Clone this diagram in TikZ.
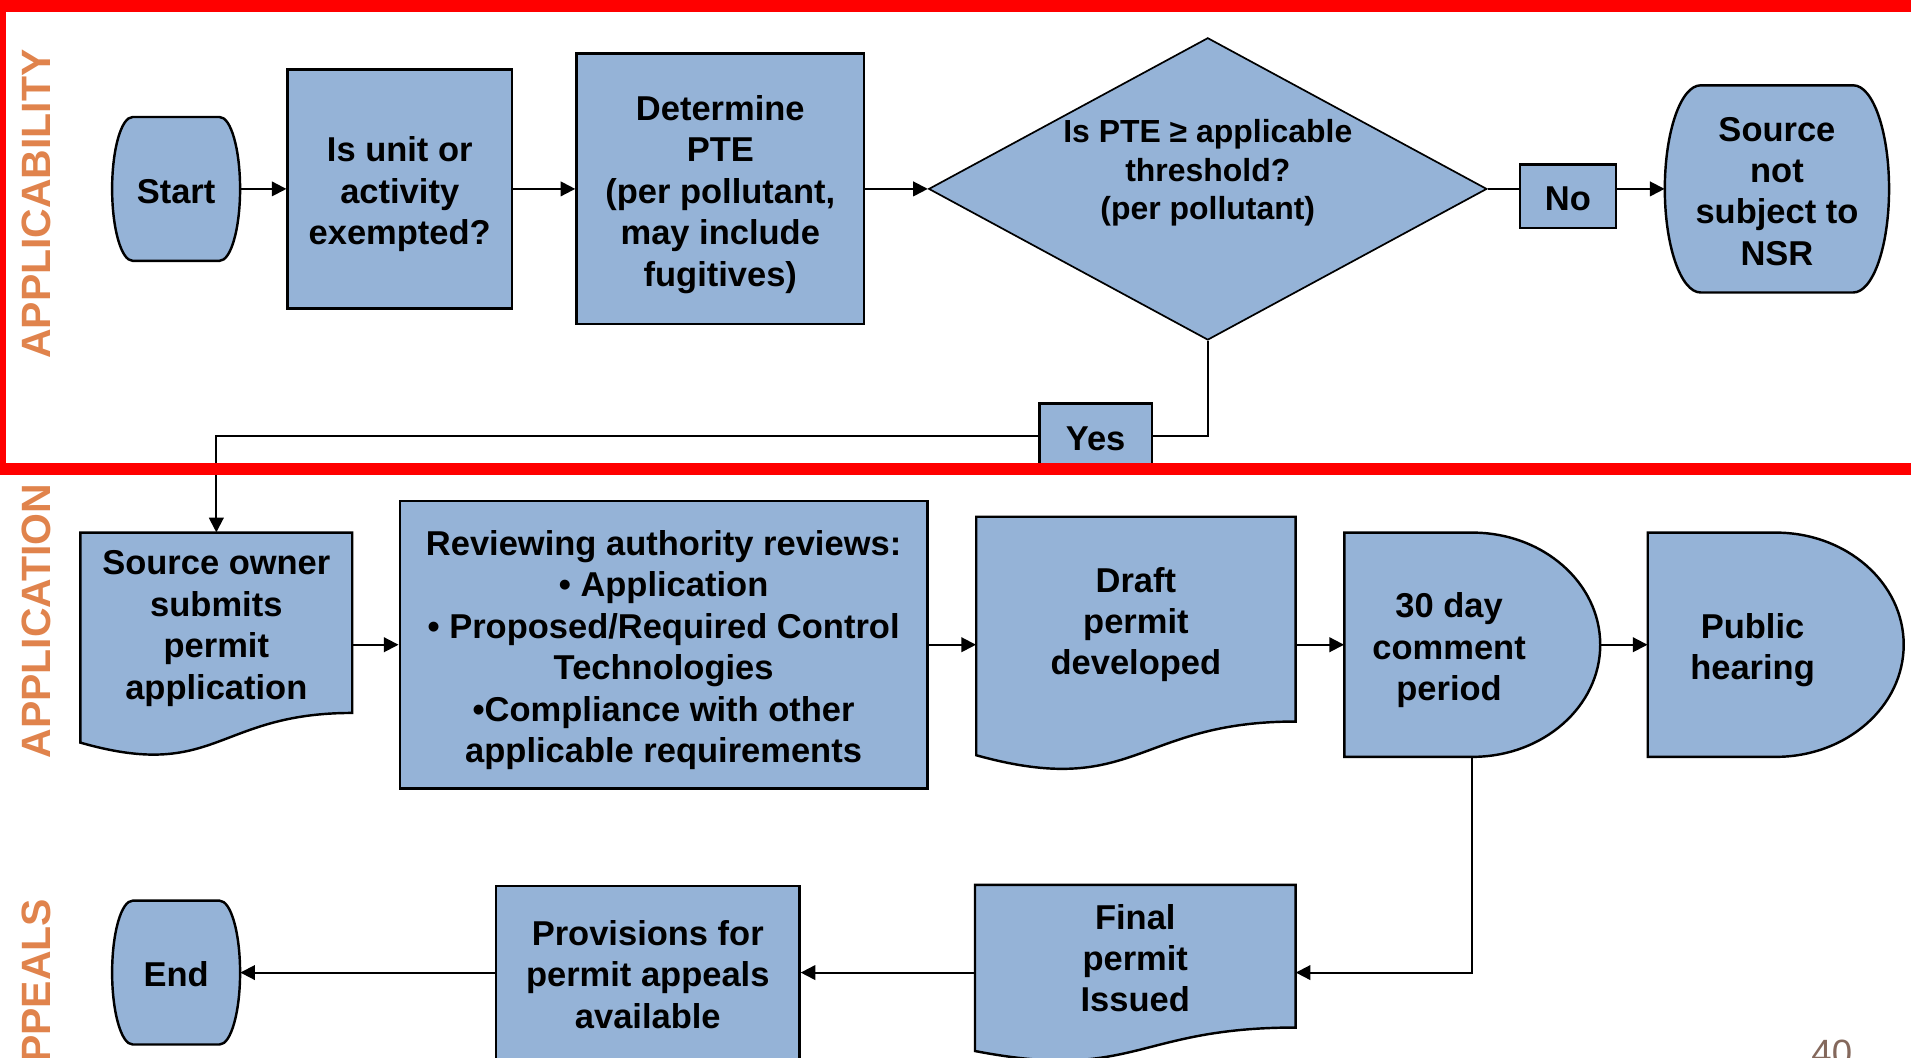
\documentclass[tikz,border=0pt]{standalone}
\usepackage{fontspec}
\setmainfont{Liberation Sans}
\usetikzlibrary{positioning, arrows.meta, shapes.geometric, calc}

\definecolor{boxblue}{RGB}{149,179,215}
\definecolor{lanecol}{RGB}{224,131,76}
\definecolor{pagenum}{RGB}{132,104,92}

% struts that fix the first line's top and the last line's bottom
\newcommand\txttop{\rule{0pt}{30.5pt}}
\newcommand\txtbot{\rule[-7pt]{0pt}{7pt}}

\begin{document}
\begin{tikzpicture}[
                x=1pt, y=-1pt,
                >={Triangle[length=12pt, width=12pt]},
                flow/.style={line width=1.6pt},
                shapefill/.style={draw=black, fill=boxblue, line width=2pt},
                txt/.style={font=\bfseries\fontsize{28.3}{34}\selectfont, align=center, inner sep=0pt},
                process/.style={txt, shapefill, rectangle},
                decision/.style={diamond, draw=black, fill=boxblue, line width=1.4pt, inner sep=0pt, aspect=1.85,
                                 font=\bfseries\fontsize{26.2}{31.5}\selectfont, align=center},
                lane/.style={rotate=90, text=lanecol, font=\bfseries\fontsize{33.6}{40}\selectfont, inner sep=0pt},
            ]
                \useasboundingbox (0,0) rectangle (1568,868);
                \clip (0,0) rectangle (1568,868);

                % Draw the start / end terminators
                \foreach \name/\xa/\ya/\xb/\yb/\words in {start/92/96/197/214/Start, stop/92/739/197/857/End,
                                                          nsr/1366/70/1550/240/{Source\\not\\subject to\\NSR}} {
                    \pgfmathsetmacro\rx{0.16*(\xb-\xa)}
                    \pgfmathsetmacro\ym{(\ya+\yb)/2}
                    \pgfmathsetmacro\kx{0.5523*\rx}
                    \pgfmathsetmacro\ky{0.5523*(\yb-\ya)/2}
                    \filldraw[shapefill] ({\xa+\rx},\ya) -- ({\xb-\rx},\ya)
                        .. controls ({\xb-\rx+\kx},\ya) and (\xb,{\ym-\ky}) .. (\xb,\ym)
                        .. controls (\xb,{\ym+\ky}) and ({\xb-\rx+\kx},\yb) .. ({\xb-\rx},\yb)
                        -- ({\xa+\rx},\yb)
                        .. controls ({\xa+\rx-\kx},\yb) and (\xa,{\ym+\ky}) .. (\xa,\ym)
                        .. controls (\xa,{\ym-\ky}) and ({\xa+\rx-\kx},\ya) .. ({\xa+\rx},\ya) -- cycle;
                    \node[txt, minimum width={\xb-\xa}, minimum height={\yb-\ya}] (\name) at ({(\xa+\xb)/2},\ym) {\txttop\words\txtbot};
                }

                % Draw the plain process boxes
                \foreach \name/\cx/\cy/\w/\h/\words in {
                        exempt/328/155/184/196/{Is unit or\\activity\\exempted?},
                        pte/591/155/236/222/{Determine\\PTE\\(per pollutant,\\may include\\fugitives)},
                        no/1286.5/161/79/52/No,
                        yes/899/358/92/54/Yes,
                        review/544.5/529/433/236/{Reviewing authority reviews:\\• Application\\• Proposed/Required Control\\Technologies\\•Compliance with other\\applicable requirements},
                        prov/531.5/798/249/142/{Provisions for\\permit appeals\\available}}
                    \node[process, minimum width=\w, minimum height=\h] (\name) at (\cx,\cy) {\txttop\words\txtbot};

                % Draw the document shapes (wavy bottom)
                \foreach \name/\xa/\ya/\xb/\hh/\words in {
                        owner/66/437/289/184.5/{Source owner\\submits\\permit\\application},
                        draft/801/424/1063/209.5/{Draft\\permit\\developed},
                        final/800/726/1063/146/{Final\\permit\\Issued}} {
                    \filldraw[shapefill] (\xa,\ya) -- (\xb,\ya) -- (\xb,{\ya+0.802*\hh})
                        .. controls ({(\xa+\xb)/2},{\ya+0.802*\hh}) and ({(\xa+\xb)/2},{\ya+1.1075*\hh}) .. (\xa,{\ya+0.934*\hh})
                        -- cycle;
                    \node[txt, minimum width={\xb-\xa}, minimum height={0.802*\hh}] (\name) at ({(\xa+\xb)/2},{\ya+0.401*\hh}) {\txttop\words\txtbot};
                }

                % Draw the delay shapes
                \foreach \name/\xa/\ya/\xb/\yb/\words in {
                        comment/1103/437/1313/621/{30 day\\comment\\period},
                        hearing/1352/437/1562/621/{Public\\hearing}} {
                    \pgfmathsetmacro\xm{(\xa+\xb)/2}
                    \pgfmathsetmacro\ym{(\ya+\yb)/2}
                    \pgfmathsetmacro\kx{0.5523*(\xb-\xa)/2}
                    \pgfmathsetmacro\ky{0.5523*(\yb-\ya)/2}
                    \filldraw[shapefill] (\xa,\ya) -- (\xm,\ya)
                        .. controls ({\xm+\kx},\ya) and (\xb,{\ym-\ky}) .. (\xb,\ym)
                        .. controls (\xb,{\ym+\ky}) and ({\xm+\kx},\yb) .. (\xm,\yb)
                        -- (\xa,\yb) -- cycle;
                    \node[inner sep=0pt, minimum width={\xb-\xa}, minimum height={\yb-\ya},
                          label={[txt, xshift=-19pt]center:{\txttop\words\txtbot}}] (\name) at (\xm,\ym) {};
                }

                % Decision
                \node[decision, minimum width=458pt, minimum height=248pt] (pteq) at (991,155)
                    {Is PTE ≥ applicable\\threshold?\\(per pollutant)\\\mbox{}};

                % Swimlane titles and slide number
                \node[lane] (lapply) at (29.5,167.5) {APPLICABILITY};
                \node[lane] (lapplic) at (29.5,509.5) {APPLICATION};
                \node[lane] (lappeal) at (29.5,817) {APPEALS};
                \node[font=\fontsize{30}{36}\selectfont, text=pagenum, anchor=base, inner sep=0pt] (pnum) at (1503,874.5) {40};

                % Connect the steps
                \draw[flow, ->] (start) -- (exempt);
                \draw[flow, ->] (exempt) -- (pte);
                \draw[flow, ->] (pte) -- (pteq);
                \draw[flow] (pteq.east) -- (pteq.east -| no.west);
                \draw[flow, ->] (no.east |- nsr.west) -- (nsr.west);
                \draw[flow] (pteq.south) |- (yes.east);
                \draw[flow, ->] (yes.west) -| (owner.north);

                \draw[flow, ->] (owner.east |- review.west) -- (review.west);
                \draw[flow, ->] (review.east) -- (review.east -| draft.west);
                \draw[flow, ->] (draft.east |- comment.west) -- (comment.west);
                \draw[flow, ->] (comment) -- (hearing);

                \draw[flow, ->] (comment.south) |- (final.east |- prov.east);
                \draw[flow, ->] (final.west |- prov.east) -- (prov.east);
                \draw[flow, ->] (prov) -- (stop);

                % Frame round the applicability lane
                \draw[red, line width=10pt] (0,4.5) rectangle (1590,385);
            \end{tikzpicture}
\end{document}
